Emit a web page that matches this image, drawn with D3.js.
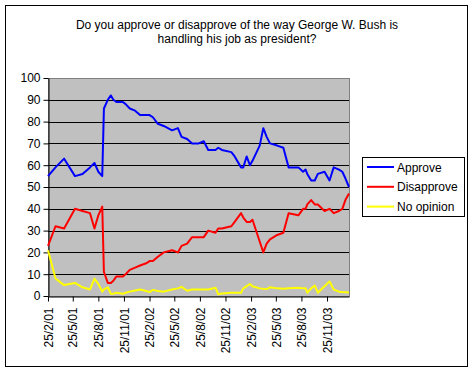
<!DOCTYPE html>
<html>
<head>
<meta charset="utf-8">
<script src="https://cdn.jsdelivr.net/npm/d3@7"></script>
<style>
body { margin: 0; background: #fff; }
text { font-family: Arial, "Liberation Sans", sans-serif; font-size: 12px; fill: #000; }
</style>
</head>
<body>
<div id="chart"></div>
<script>
// chart texts
var titleLines = ["Do you approve or disapprove of the way George W. Bush is", "handling his job as president?"];
var seriesNames = ["Approve", "Disapprove", "No opinion"];

// poll dates and results
var pollDates = [
  "2001-02-25","2001-03-24","2001-04-24","2001-06-02","2001-06-29","2001-07-26","2001-08-11","2001-08-25","2001-09-08","2001-09-14",
  "2001-09-28","2001-10-09","2001-10-18","2001-10-29","2001-11-21","2001-12-01","2001-12-16",
  "2002-01-04","2002-01-22","2002-02-13","2002-02-25","2002-03-09","2002-03-27","2002-04-17","2002-05-17","2002-06-07","2002-06-20",
  "2002-07-10","2002-07-28","2002-08-21","2002-09-08","2002-09-24","2002-10-20","2002-10-30","2002-11-12","2002-12-16","2002-12-28",
  "2003-01-20","2003-01-28","2003-02-09","2003-02-21","2003-03-02","2003-03-28","2003-04-10","2003-04-22","2003-05-04","2003-05-30",
  "2003-06-21","2003-07-10","2003-08-14","2003-08-31","2003-09-09","2003-09-15","2003-09-29","2003-10-12","2003-10-23","2003-11-16",
  "2003-12-04","2003-12-19",
  "2004-01-07","2004-01-19","2004-01-30","2004-02-12"
];
var approve = [
  55, 59, 63, 55, 56, 59, 61, 57, 55, 86,
  90, 92, 90, 89, 89, 88, 86,
  85, 83, 83, 83, 82, 79, 78, 76, 77, 73,
  72, 70, 70, 71, 67, 67, 68, 67, 66, 64,
  59, 59, 64, 60, 62, 69, 77, 73, 70, 69,
  68, 59, 59, 57, 58, 56, 53, 53, 56, 57,
  53, 59,
  58, 57, 54, 50
];
var disapprove = [
  23, 32, 31, 40, 39, 38, 31, 37, 41, 11,
  6, 6, 7, 9, 9, 10, 12,
  13, 14, 15, 16, 16, 18, 20, 21, 20, 23,
  24, 27, 27, 27, 30, 29, 31, 31, 32, 34,
  38, 36, 34, 34, 35, 25, 20, 24, 26, 28,
  29, 38, 37, 40, 40, 42, 44, 42, 42, 39,
  40, 38,
  39, 40, 44, 47
];
var noOpinion = [
  21, 8, 5, 6, 4, 3, 8, 5.5, 2, 3,
  4, 1, 1, 1.5, 1, 1.5, 2,
  2.5, 3, 2.3, 1.8, 2.8, 2.3, 2, 3, 3.5, 4.2,
  2.4, 3, 3, 3, 3, 3.8, 0.8, 1.2, 1.5, 1.5,
  1.5, 3.5, 4.5, 5.5, 4.5, 3.5, 3.3, 3.2, 4, 3.5,
  3.3, 3.6, 3.8, 3.5, 3.5, 1.5, 3.5, 4.8, 1.5, 4.5,
  6.7, 3,
  2, 1.8, 1.7, 1.6
];

var yTicks = [0, 10, 20, 30, 40, 50, 60, 70, 80, 90, 100];
var xTickDates = ["2001-02-25","2001-05-25","2001-08-25","2001-11-25","2002-02-25","2002-05-25",
                  "2002-08-25","2002-11-25","2003-02-25","2003-05-25","2003-08-25","2003-11-25"];

var W = 474, H = 372;
var colors = ["#0000ff", "#ff0000", "#ffff00"];
var parse = d3.timeParse("%Y-%m-%d");
var fmt = d3.timeFormat("%-d/%-m/%y");

var svg = d3.select("#chart").append("svg")
    .attr("width", W)
    .attr("height", H);

// chart area border
svg.append("rect")
    .attr("x", 5.5).attr("y", 5.5)
    .attr("width", 462).attr("height", 361)
    .attr("fill", "#fff")
    .attr("stroke", "#000");

svg.selectAll("text.title")
    .data(titleLines)
    .enter()
    .append("text")
    .attr("class", "title")
    .attr("x", 237)
    .attr("y", function(d, i) { return 29 + i * 13.5; })
    .attr("text-anchor", "middle")
    .text(function(d) { return d; });

var plotLeft = 48, plotRight = 349, plotTop = 78, plotBottom = 296;

var x = d3.scaleTime()
    .domain([parse(pollDates[0]), parse(pollDates[pollDates.length - 1])])
    .range([plotLeft, plotRight]);
var y = d3.scaleLinear().domain([0, 100]).range([plotBottom, plotTop]);

function crisp(v) { return Math.round(v) + 0.5; }

// plot area
svg.append("rect")
    .attr("x", plotLeft + 0.5).attr("y", plotTop + 0.5)
    .attr("width", plotRight - plotLeft).attr("height", plotBottom - plotTop)
    .attr("fill", "#c0c0c0")
    .attr("stroke", "#808080");

svg.selectAll("line.grid")
    .data(yTicks.slice(1, -1))
    .enter()
    .append("line")
    .attr("class", "grid")
    .attr("x1", plotLeft).attr("x2", plotRight)
    .attr("y1", function(d) { return crisp(y(d)); })
    .attr("y2", function(d) { return crisp(y(d)); })
    .attr("stroke", "#000");

// axes
var yAxis = svg.append("g")
    .attr("transform", "translate(" + (plotLeft + 0.5) + ",0)")
    .call(d3.axisLeft(y).tickValues(yTicks).tickSize(5).tickPadding(3).tickSizeOuter(0));

var xAxis = svg.append("g")
    .attr("transform", "translate(0," + (plotBottom + 0.5) + ")")
    .call(d3.axisBottom(x).tickValues(xTickDates.map(parse)).tickFormat(fmt).tickSize(5).tickSizeOuter(0));

xAxis.selectAll("text")
    .attr("transform", "rotate(-90)")
    .attr("text-anchor", "end")
    .attr("x", -11)
    .attr("y", 0)
    .attr("dy", "0.35em");

svg.selectAll(".domain, .tick line").attr("stroke", "#000");
svg.selectAll(".tick text").style("font-family", "Arial, 'Liberation Sans', sans-serif").style("font-size", "12px").attr("fill", "#000");

// series lines
var series = [approve, disapprove, noOpinion];
var line = d3.line()
    .x(function(d, i) { return x(parse(pollDates[i])); })
    .y(function(d) { return y(d); });

svg.selectAll("path.series")
    .data(series)
    .enter()
    .append("path")
    .attr("class", "series")
    .attr("d", line)
    .attr("fill", "none")
    .attr("stroke", function(d, i) { return colors[i]; })
    .attr("stroke-width", 2)
    .attr("stroke-linejoin", "round");

// legend
var legend = svg.append("g");
legend.append("rect")
    .attr("x", 362.5).attr("y", 157.5)
    .attr("width", 102).attr("height", 59)
    .attr("fill", "#fff")
    .attr("stroke", "#000");

var items = legend.selectAll("g.item")
    .data(seriesNames)
    .enter()
    .append("g")
    .attr("transform", function(d, i) { return "translate(0," + (167 + i * 19.8) + ")"; });
items.append("line")
    .attr("x1", 367).attr("x2", 394)
    .attr("y1", 0).attr("y2", 0)
    .attr("stroke", function(d, i) { return colors[i]; })
    .attr("stroke-width", 2);
items.append("text")
    .attr("x", 397)
    .attr("y", 4.5)
    .text(function(d) { return d; });
</script>
</body>
</html>
